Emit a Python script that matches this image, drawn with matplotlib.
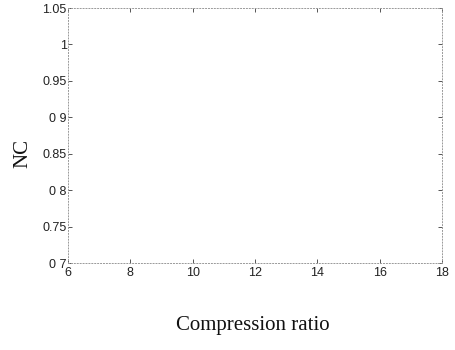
import matplotlib
matplotlib.use("Agg")
import matplotlib.pyplot as plt

x_ticks = [6, 8, 10, 12, 14, 16, 18]
y_ticks = [0.7, 0.75, 0.8, 0.85, 0.9, 0.95, 1.0, 1.05]
y_tick_labels = ["0 7", "0.75", "0 8", "0.85", "0 9", "0.95", "1", "1.05"]
x_label = "Compression ratio"
y_label = "NC"

fig = plt.figure(figsize=(4.55, 3.5), dpi=100)
ax = fig.add_axes([68/455, 1-263/350, (442-68)/455, (263-8)/350])
ax.set_xlim(6, 18)
ax.set_ylim(0.7, 1.05)
ax.set_xticks(x_ticks)
ax.set_xticklabels([str(v) for v in x_ticks])
ax.set_yticks(y_ticks)
ax.set_yticklabels(y_tick_labels)
for s in ax.spines.values():
    s.set_color("#999999")
    s.set_linestyle((0, (1, 2)))
    s.set_linewidth(0.7)
ax.tick_params(direction="in", length=3, width=0.7, color="#555555",
               top=True, right=True, labelsize=9, labelcolor="#222222")
ax.tick_params(axis="x", pad=3)
ax.tick_params(axis="y", pad=1)
for lbl in ax.get_xticklabels() + ax.get_yticklabels():
    lbl.set_fontfamily("Liberation Sans")
ax.set_xlabel(x_label, fontfamily="Liberation Serif", fontsize=15, color="#111111")
ax.xaxis.set_label_coords(0.495, -0.247)
ax.xaxis.label.set_verticalalignment("center")
ax.set_ylabel(y_label, fontfamily="Liberation Serif", fontsize=15, color="#111111")
ax.yaxis.set_label_coords(-0.12, 0.431)
ax.yaxis.label.set_verticalalignment("center")
fig.savefig("out.png", dpi=100)
